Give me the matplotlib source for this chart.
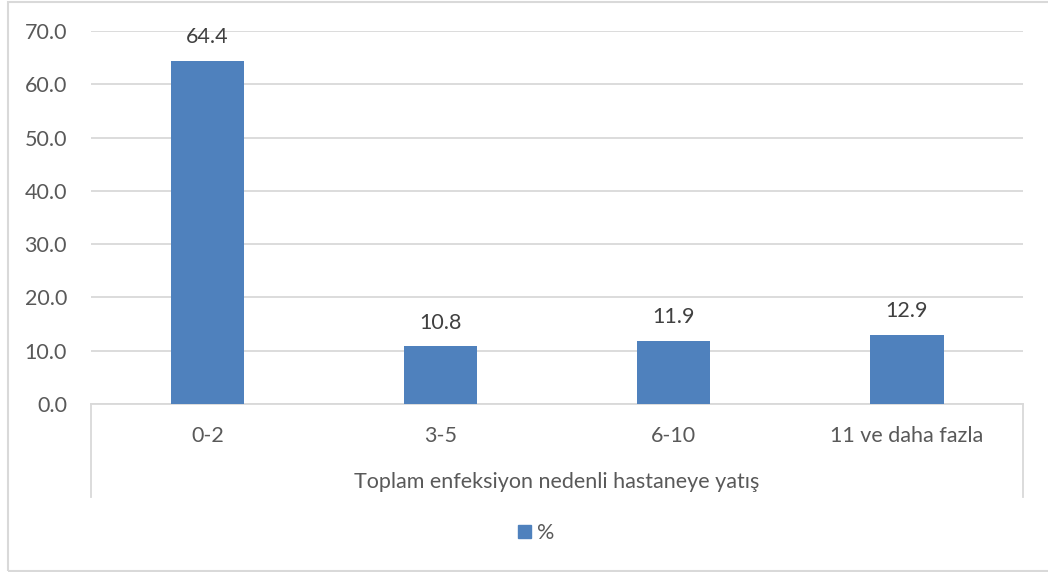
import matplotlib
matplotlib.use("Agg")
import matplotlib.pyplot as plt
import matplotlib.patches as mpatches
import numpy as np

# data
categories = ["0-2", "3-5", "6-10", "11 ve daha fazla"]
values = [64.4, 10.8, 11.9, 12.9]
yticks = [0, 10, 20, 30, 40, 50, 60, 70]
axis_title = "Toplam enfeksiyon nedenli hastaneye yatış"
series_name = "%"

bar_color = "#4F81BD"
grid_color = "#D9D9D9"
text_color = "#595959"
fs = 15.5

plt.rcParams["font.family"] = ["Lato", "DejaVu Sans"]

fig = plt.figure(figsize=(10.48, 5.72), dpi=100)
ax = fig.add_axes([90.7 / 1048, 1 - 404 / 572, (1023.5 - 90.7) / 1048, (404 - 31) / 572])

x = np.arange(len(categories))
bars = ax.bar(x, values, width=0.314, color=bar_color, zorder=3)

for b, v in zip(bars, values):
    ax.annotate(f"{v:.1f}", (b.get_x() + b.get_width() / 2, v),
                xytext=(0, 10), textcoords="offset points",
                ha="center", va="bottom", fontsize=fs, color="#404040")

ax.set_xlim(-0.5, len(categories) - 0.5)
ax.set_ylim(0, 70)
ax.set_yticks(yticks)
ax.set_yticklabels([f"{t:.1f}" for t in yticks], fontsize=fs, color=text_color)
ax.yaxis.grid(True, color=grid_color, linewidth=1.3, zorder=0)
ax.tick_params(axis="y", length=0, pad=17)

ax.set_xticks(x)
ax.set_xticklabels(categories, fontsize=fs, color=text_color)
ax.tick_params(axis="x", length=0, pad=16)

for side in ["top", "right", "left"]:
    ax.spines[side].set_visible(False)
ax.spines["bottom"].set_color(grid_color)
ax.spines["bottom"].set_linewidth(1.3)

# category group separators below the axis
for xs in [0, 1]:
    ax.plot([xs, xs], [0, -93 / 373], transform=ax.transAxes,
            color=grid_color, linewidth=1.3, clip_on=False)

fig.text((90.7 + 1023.5) / 2 / 1048, 1 - 482 / 572, axis_title,
         ha="center", va="center", fontsize=fs, color=text_color)

# legend
handle = mpatches.Patch(color=bar_color, label=series_name)
fig.legend(handles=[handle], loc="center", bbox_to_anchor=(536 / 1048, 1 - 533 / 572),
           frameon=False, fontsize=fs, labelcolor=text_color,
           handlelength=0.6, handleheight=0.6, handletextpad=0.3)

# outer chart border
fig.patches.append(mpatches.Rectangle((8 / 1048, 1 / 572), 1.2, 569 / 572,
                                      transform=fig.transFigure, fill=False,
                                      edgecolor=grid_color, linewidth=1.5))

fig.savefig("out.png", dpi=100)
